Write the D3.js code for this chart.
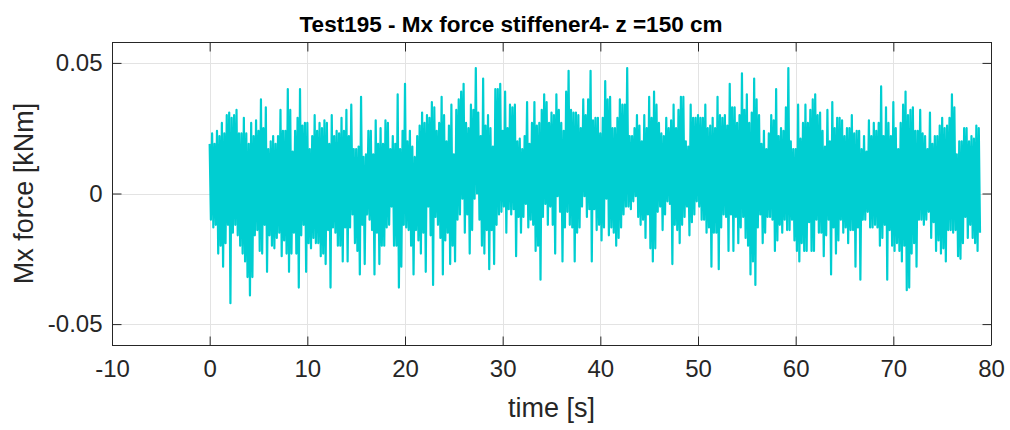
<!DOCTYPE html>
<html>
<head>
<meta charset="utf-8">
<script src="https://cdn.jsdelivr.net/npm/d3@7"></script>
<style>
  html, body { margin: 0; padding: 0; background: #fff; }
  svg { display: block; }
  text { font-family: "Liberation Sans", Arial, Helvetica, sans-serif; fill: #262626; }
</style>
</head>
<body>
<div id="chart"></div>
<script>
// ---------------- DATA ----------------
const titleText = "Test195 - Mx force stiffener4- z =150 cm";
const xLabel = "time [s]";
const yLabel = "Mx force [kNm]";
const xTicks = [-10, 0, 10, 20, 30, 40, 50, 60, 70, 80];
const xTickLabels = ["-10", "0", "10", "20", "30", "40", "50", "60", "70", "80"];
const yTicks = [-0.05, 0, 0.05];
const yTickLabels = ["-0.05", "0", "0.05"];
const xDomain = [-10, 80];
const yDomain = [-0.058, 0.058];

// Sampling of the read-off envelope: one local maximum and one local minimum
// every 0.25 s, starting at t = 0 s. Values are in 1e-3 kNm.
const sampleStep = 0.25;
const peakHigh = [
  // 0 – 10.75 s
  19,23,19,24,22,27,23,30,31,29,30,32,23,23,29,23,19,27,22,28,24,36,25,33,17,20,22,19,22,32,24,24,40,32,16,24,29,40,26,27,27,17,22,30,
  // 11 – 21.75 s
  24,27,25,28,27,19,30,22,24,23,29,24,32,22,34,17,17,18,37,14,15,24,24,15,28,19,25,19,28,27,17,22,19,38,17,24,42,20,24,18,14,22,26,31,
  // 22 – 33 s
  27,30,29,35,33,24,27,37,30,20,26,34,15,32,36,39,42,27,25,34,32,48,31,22,44,26,30,25,18,40,40,42,24,39,25,34,33,34,20,21,17,22,35,19,27,
  // 33.25 – 44.25 s
  35,26,27,32,38,35,27,31,30,38,32,27,24,39,47,32,31,31,30,25,36,30,36,47,28,29,29,23,29,43,36,37,25,25,29,36,34,34,48,22,22,25,30,26,20,
  // 44.5 – 55.5 s
  30,25,37,29,39,34,27,23,22,29,25,28,34,25,32,37,37,20,18,34,29,29,30,29,29,34,25,26,29,25,37,30,29,30,26,42,33,33,27,30,46,32,38,27,31,
  // 55.75 – 66.75 s
  44,36,30,19,24,17,23,30,28,40,22,25,24,33,48,20,17,17,34,21,27,34,27,32,36,38,30,31,24,18,32,20,35,25,29,29,28,22,25,25,30,23,24,24,17,
  // 67 – 78.75 s
  22,16,28,22,27,24,27,41,22,33,27,22,35,25,17,27,34,39,30,32,33,24,24,32,23,22,17,31,19,22,22,26,29,25,26,29,38,33,15,20,20,25,25,20,22,21,26,25
];
const peakLow = [
  // 0 – 10.75 s
  -10,-13,-12,-23,-20,-28,-19,-12,-42,-15,-12,-16,-20,-23,-26,-32,-39,-32,-16,-14,-22,-23,-12,-30,-16,-20,-21,-17,-15,-24,-18,-23,-30,-23,-15,-23,-36,-16,-12,-30,-19,-21,-17,-19,
  // 11 – 21.75 s
  -19,-24,-23,-27,-14,-36,-13,-15,-20,-20,-26,-13,-26,-13,-8,-19,-22,-31,-12,-27,-8,-10,-14,-31,-15,-27,-20,-20,-13,-12,-5,-20,-20,-36,-28,-12,-13,-14,-20,-31,-14,-18,-23,-15,
  // 22 – 33 s
  -30,-5,-16,-35,-9,-12,-17,-31,-18,-15,-27,-20,-26,-10,-8,-2,-15,-8,-23,-14,-2,0,-10,-20,-23,-14,-29,-14,-27,-12,-8,-7,-5,-15,-6,-8,-6,-24,-9,-15,-9,-4,-13,-10,-12,
  // 33.25 – 44.25 s
  -22,-20,-33,-9,-4,-12,-5,-12,-23,-1,-7,-26,-13,-7,-12,-13,-26,-15,-13,-5,-1,-9,-6,-26,-6,-14,-12,-18,-13,-2,-16,-13,-15,-20,-17,-13,-8,-5,-5,-6,-3,-1,-9,-12,-10,
  // 44.5 – 55.5 s
  -17,-8,-21,-26,-21,-7,-5,-14,-8,-3,-4,-27,-12,-14,-19,-12,-9,-5,-16,-11,-8,-3,-5,-10,-10,-15,-13,-28,-15,-15,-29,-13,-8,-9,-22,-8,-22,-9,-19,-13,-9,-17,-20,-31,-26,
  // 55.75 – 66.75 s
  -35,-13,-8,-19,-15,-9,-9,-10,-22,-18,-12,-15,-10,-14,-14,-10,-18,-22,-26,-19,-22,-22,-11,-22,-22,-10,-15,-15,-24,-16,-10,-31,-13,-23,-18,-10,-15,-13,-19,-14,-14,-28,-13,-33,-10,
  // 67 – 78.75 s
  -10,-7,-13,-13,-12,-13,-20,-17,-12,-33,-14,-20,-22,-19,-22,-26,-20,-37,-36,-23,-19,-28,-10,-10,-12,-10,-7,-17,-11,-22,-18,-23,-21,-26,-14,-14,-15,-14,-24,-25,-19,-9,-17,-12,-17,-19,-22,-15
];

// ---------------- LAYOUT ----------------
const W = 1010, H = 430;
const plot = { left: 112, right: 991, top: 42, bottom: 345 };
const lineColor = "#00CED1";
const axisColor = "#262626";
const gridColor = "#e3e3e3";
const tickLen = 9;

const svg = d3.select("#chart").append("svg")
  .attr("width", W).attr("height", H);

const x = d3.scaleLinear().domain(xDomain).range([plot.left, plot.right]);
const y = d3.scaleLinear().domain(yDomain).range([plot.bottom, plot.top]);

// grid
const grid = svg.append("g");
grid.selectAll("line.gx").data(xTicks).join("line")
  .attr("x1", d => Math.round(x(d)) + 0.5).attr("x2", d => Math.round(x(d)) + 0.5)
  .attr("y1", plot.top).attr("y2", plot.bottom)
  .attr("stroke", gridColor).attr("stroke-width", 1);
grid.selectAll("line.gy").data(yTicks).join("line")
  .attr("y1", d => Math.round(y(d)) + 0.5).attr("y2", d => Math.round(y(d)) + 0.5)
  .attr("x1", plot.left).attr("x2", plot.right)
  .attr("stroke", gridColor).attr("stroke-width", 1);

// signal (zig-zag between read maxima and minima)
const series = [];
peakHigh.forEach((h, i) => {
  series.push([i * sampleStep, h / 1000]);
  series.push([i * sampleStep + sampleStep / 2, peakLow[i] / 1000]);
});
const line = d3.line().x(d => x(d[0])).y(d => y(d[1]));
svg.append("path")
  .attr("d", line(series))
  .attr("fill", "none")
  .attr("stroke", lineColor)
  .attr("stroke-width", 2.2)
  .attr("stroke-linejoin", "round");

// axes (ticks inside, on all four sides)
const xAxisB = d3.axisBottom(x).tickValues(xTicks).tickSize(-tickLen)
  .tickFormat((d, i) => xTickLabels[i]);
const xAxisT = d3.axisTop(x).tickValues(xTicks).tickSize(-tickLen).tickFormat("");
const yAxisL = d3.axisLeft(y).tickValues(yTicks).tickSize(-tickLen)
  .tickFormat((d, i) => yTickLabels[i]);
const yAxisR = d3.axisRight(y).tickValues(yTicks).tickSize(-tickLen).tickFormat("");

function styleAxis(g) {
  g.select(".domain").attr("stroke", axisColor).attr("stroke-width", 1);
  g.selectAll(".tick line").attr("stroke", axisColor).attr("stroke-width", 1);
  g.selectAll(".tick text").attr("fill", axisColor)
    .style("font-size", "24px").style("font-family", '"Liberation Sans", Arial, sans-serif');
}
svg.append("g").attr("transform", `translate(0,${plot.bottom + 0.5})`).call(xAxisB).call(styleAxis)
  .call(g => g.select(".domain").attr("d", `M${plot.left},0H${plot.right}`))
  .call(g => g.selectAll(".tick text").attr("dy", "0.71em").attr("y", 14));
svg.append("g").attr("transform", `translate(0,${plot.top + 0.5})`).call(xAxisT).call(styleAxis)
  .call(g => g.select(".domain").attr("d", `M${plot.left},0H${plot.right}`));
svg.append("g").attr("transform", `translate(${plot.left + 0.5},0)`).call(yAxisL).call(styleAxis)
  .call(g => g.select(".domain").attr("d", `M0,${plot.top}V${plot.bottom}`))
  .call(g => g.selectAll(".tick text").attr("x", -10));
svg.append("g").attr("transform", `translate(${plot.right + 0.5},0)`).call(yAxisR).call(styleAxis)
  .call(g => g.select(".domain").attr("d", `M0,${plot.top}V${plot.bottom}`));

// labels
svg.append("text")
  .attr("x", 511).attr("y", 31.5)
  .attr("text-anchor", "middle")
  .style("font-size", "22.5px").style("font-weight", "bold").style("fill", "#000")
  .text(titleText);

svg.append("text")
  .attr("x", (plot.left + plot.right) / 2).attr("y", 417)
  .attr("text-anchor", "middle")
  .style("font-size", "27px")
  .text(xLabel);

svg.append("text")
  .attr("transform", `translate(33,${(plot.top + plot.bottom) / 2}) rotate(-90)`)
  .attr("text-anchor", "middle")
  .style("font-size", "27px")
  .text(yLabel);
</script>
</body>
</html>
